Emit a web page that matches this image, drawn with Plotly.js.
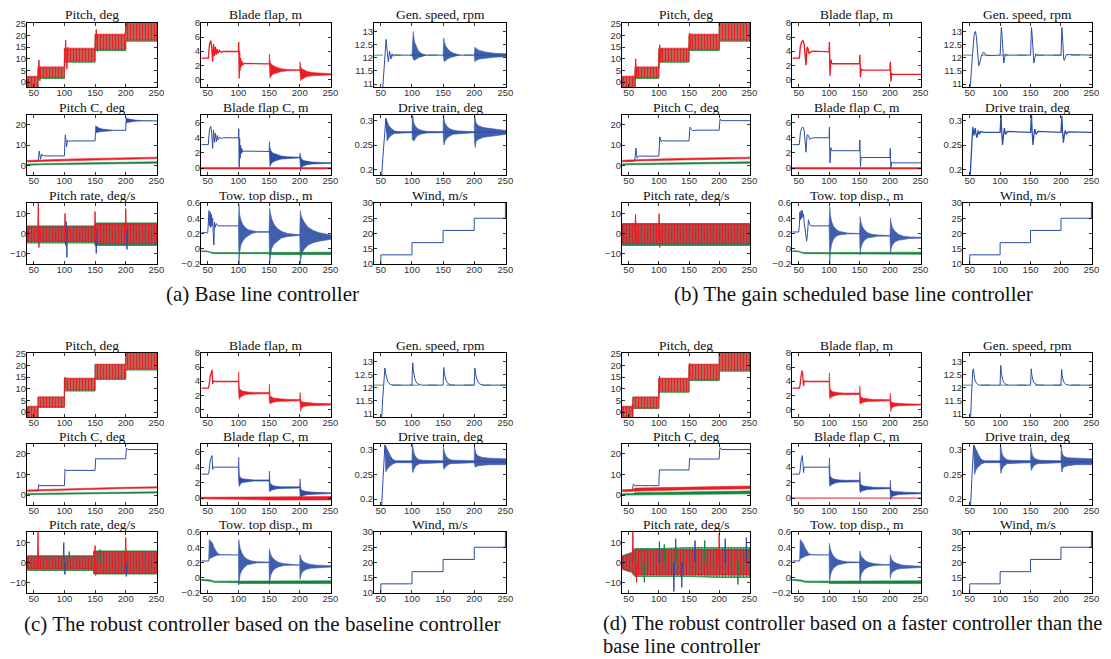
<!DOCTYPE html>
<html><head><meta charset="utf-8">
<script src="https://cdn.plot.ly/plotly-3.0.1.min.js"></script>
<style>html,body{margin:0;padding:0;background:#fff}#chart{width:1111px;height:659px}</style>
</head><body><div id="chart"></div>
<script>
// ---------------- shared data ----------------
const X_TICKS = [50,100,150,200,250];
const TITLES = ["Pitch, deg","Blade flap, m","Gen. speed, rpm","Pitch C, deg","Blade flap C, m","Drive train, deg","Pitch rate, deg/s","Tow. top disp., m","Wind, m/s"];
const CAPTIONS = ["(a) Base line controller","(b) The gain scheduled base line controller","(c) The robust controller based on the baseline controller","(d) The robust controller based on a faster controller than the","base line controller"];
const YT_PITCH=[0,5,10,15,20,25], YL_PITCH=["0","5","10","15","20","25"];
const YT_FLAP=[0,2,4,6,8], YL_FLAP=["0","2","4","6","8"];
const YT_GEN=[11,11.5,12,12.5,13], YL_GEN=["11","11.5","12","12.5","13"];
const YT_PC=[0,10,20], YL_PC=["0","10","20"];
const YT_FC=[0,2,4,6], YL_FC=["0","2","4","6"];
const YT_DR=[0.2,0.25,0.3], YL_DR=["0.2","0.25","0.3"];
const YT_RATE=[-10,0,10], YL_RATE=["\u221210","0","10"];
const YT_TW=[-0.2,0,0.2,0.4,0.6], YL_TW=["\u22120.2","0","0.2","0.4","0.6"];
const YT_WIND=[10,15,20,25,30], YL_WIND=["10","15","20","25","30"];

const WIND_t=[40,50,50,100,100,150,150,200,200,250,250];
const WIND_y=[8,8,13,13,17,17,21,21,25,25,30];
const GENREF_t=[39,251], GENREF_y=[12.1,12.1];
const ZERO_t=[39,251], ZERO_y=[0,0];

// ---------------- panel (a) ----------------
const A_pitch_t=[40,57,57,100,100,150,150,200,200,251];
const A_pitchR_lo=[-2.5,-2.5,2,2,9,9,14,14,18,18];
const A_pitchR_hi=[2.5,2.5,6.5,6.5,14.5,14.5,20.5,20.5,26,26];
const A_pitchG_lo=[-3,-3,1.5,1.5,8.5,8.5,13.5,13.5,17.5,17.5];
const A_pitchG_hi=[2,2,6,6,14,14,20,20,25.5,25.5];
const A_pitchSpk_t=[57,58.5,60,61.5,null,100.5,102,104,106,null,150,152,154,null,199,201];
const A_pitchSpk_y=[1,9.5,0.5,6.5,null,6,18,5.5,15,null,14,22.5,13,null,20.5,25];
const A_flap_t=[40,51,52,53,55,56.5,58,59.5,61,62.5,64,65.5,67,69,72,76,100,100.6,101.3,102,102.8,103.6,104.5,105.5,107,109,150];
const A_flap_y=[3,3,4.2,5.0,5.5,4.5,2.5,5.0,3.3,4.6,3.5,4.3,3.7,4.1,3.85,3.95,3.95,5.3,0.1,4.0,1.2,3.0,1.8,2.6,2.0,2.25,2.2];
const A_flapB_t=[150,150.5,151.5,153,156,162,170,180,200,null,200,200.5,201.5,203,206,212,220,235,251];
const A_flapB_hi=[2.2,3.6,2.6,2.2,2.0,1.7,1.5,1.4,1.35,null,1.35,2.5,1.8,1.5,1.4,1.1,0.95,0.85,0.8];
const A_flapB_lo=[2.2,2.0,0.2,0.4,0.7,0.9,1.1,1.2,1.25,null,1.25,1.0,-0.2,0.0,0.2,0.4,0.5,0.6,0.62];
const A_gen_t=[40,52,53.5,55.5,57,58.4,60,62,64,66,68,70,72,75,251];
const A_gen_y=[9.5,10.5,11.0,11.9,12.5,12.7,12.3,11.85,12.25,11.95,12.15,12.05,12.12,12.1,12.1];
const A_genB_t=[100,101,102,104,107,110,114,118,123,null,150,151,152,154,157,161,166,171,177,null,200,201,203,208,218,232,251];
const A_genB_hi=[12.1,12.7,13.0,12.6,12.4,12.28,12.18,12.13,12.1,null,12.1,12.75,12.6,12.45,12.35,12.25,12.18,12.13,12.1,null,12.1,12.4,12.35,12.28,12.22,12.17,12.15];
const A_genB_lo=[12.1,12.0,11.95,11.9,11.95,12.0,12.04,12.07,12.1,null,12.1,11.95,11.85,11.9,11.95,12.0,12.04,12.07,12.1,null,12.1,11.85,11.9,11.95,11.99,12.02,12.04];
const A_pc_t=[40,57,58,59,60,61,62,63,64,66,70,100,100.5,101.5,102.5,103.5,105,107,110,150];
const A_pc_y=[2,2,4,7,5,3,4.5,5.5,4.5,4.8,4.6,4.6,9,15,12,9,12.5,11.8,12,12];
const A_pcB_t=[150,151,153,157,163,170,180,200,null,200,200.5,203,208,215,225,251];
const A_pcB_hi=[12,19.5,19,18.3,17.8,17.5,17.3,17.3,null,17.3,23.5,23,22.6,22.3,22.1,22];
const A_pcB_lo=[12,16,16.2,16.5,16.8,17,17.1,17.2,null,17.2,21,21.3,21.5,21.7,21.8,21.9];
const A_pcRG_t=[40,60,100,150,200,251];
const A_pcR_hi=[2.4,2.7,3.0,3.4,3.8,4.0];
const A_pcR_lo=[1.7,2.0,2.3,2.7,3.0,3.3];
const A_pcG_hi=[0.6,0.8,1.0,1.3,1.6,1.7];
const A_pcG_lo=[0,0.2,0.4,0.6,0.9,1.0];
const A_fc_t=[40,51,52,53,55,56.5,58,59.5,61,62.5,64,65.5,67,69,72,76,100,100.6,101.3,102,102.8,103.6,104.5,105.5,107,109,150];
const A_fc_y=[3.1,3.1,4.3,5.1,5.5,4.6,2.6,5.0,3.4,4.6,3.5,4.3,3.7,4.1,3.9,4.0,4.0,5.2,0.1,4.0,1.3,3.0,1.9,2.6,2.1,2.25,2.2];
const A_fcB_t=[150,150.5,151.5,153,156,162,170,180,200,null,200,200.5,201.5,203,206,212,220,235,251];
const A_fcB_hi=[2.2,3.5,2.7,2.3,2.0,1.8,1.6,1.5,1.45,null,1.45,2.0,1.5,1.2,1.0,0.9,0.8,0.75,0.72];
const A_fcB_lo=[2.2,2.0,0.2,0.5,0.8,1.0,1.2,1.3,1.35,null,1.35,0.8,-0.4,0.1,0.3,0.45,0.55,0.6,0.62];
const A_dr_t=[40,51,53,55,57,58,60,80,251];
const A_dr_y=[0.15,0.18,0.22,0.26,0.29,0.305,0.2765,0.2765,0.2765];
const A_drB_t=[58,60,63,67,72,80,100,null,100,100.5,101.5,103,106,110,116,125,150,null,150,150.5,151.5,153,156,160,166,175,200,null,200,200.5,201.5,203,207,215,230,251];
const A_drB_hi=[0.305,0.298,0.29,0.284,0.279,0.2775,0.2775,null,0.2775,0.313,0.31,0.295,0.288,0.283,0.28,0.278,0.2775,null,0.2775,0.313,0.305,0.295,0.289,0.284,0.281,0.279,0.2775,null,0.2775,0.313,0.305,0.295,0.29,0.286,0.283,0.28];
const A_drB_lo=[0.29,0.258,0.265,0.27,0.274,0.2755,0.2755,null,0.2755,0.26,0.262,0.258,0.265,0.27,0.273,0.275,0.2755,null,0.2755,0.26,0.25,0.258,0.264,0.268,0.272,0.274,0.2755,null,0.2755,0.255,0.245,0.258,0.262,0.266,0.269,0.272];
const A_rate_t=[40,150,150,251];
const A_rateB_hi=[3.5,3.5,5,5], A_rateB_lo=[-4,-4,-5.5,-5.5];
const A_rateG_hi=[3.8,3.8,5.3,5.3], A_rateG_lo=[-4.8,-4.8,-6,-6];
const A_rateR_hi=[3.3,3.3,4.5,4.5], A_rateR_lo=[-3.8,-3.8,-5,-5];
const A_rateSpkR_t=[56.5,57.5,58.5,60,61.5,null,100,101,102,103,null,149,150,151,152,null,199,200,201];
const A_rateSpkR_y=[2,15.3,-7,3,-2,null,-3,10,-6,3,null,-3,11,-4,3,null,-4,12.5,0];
const A_rateSpkB_t=[101,102,103,104,105,null,150.5,152,153,null,201,202,203];
const A_rateSpkB_y=[3,-4,6,-12,2,null,2,-10,2,null,2,-8,2];
const A_tw_t=[40,50,51,52,53,54,55,56,57,58,59,60,61,62,64,67,70,100];
const A_tw_y=[0.21,0.21,0.35,0.5,0.3,0.48,0.28,0.45,0.3,0.4,0.2,0.05,0.35,0.28,0.33,0.3,0.3,0.3];
const A_twB_t=[100,101,102,104,107,111,116,122,130,150,null,150,151,152,154,158,163,170,180,190,200,null,200,201,202,204,208,214,222,232,242,251];
const A_twB_hi=[0.3,0.58,0.45,0.38,0.32,0.28,0.25,0.235,0.225,0.225,null,0.225,0.53,0.48,0.4,0.32,0.27,0.23,0.2,0.19,0.185,null,0.185,0.5,0.45,0.4,0.34,0.28,0.24,0.21,0.19,0.18];
const A_twB_lo=[0.3,-0.2,-0.05,0.05,0.1,0.14,0.17,0.2,0.215,0.215,null,0.215,-0.19,-0.1,0.0,0.06,0.1,0.14,0.16,0.17,0.175,null,0.175,-0.2,-0.12,-0.05,0.0,0.05,0.08,0.1,0.115,0.125];
const A_twG_t=[40,50,55,60,100,150,150,200,200,251];
const A_twG_hi=[-0.025,-0.03,-0.045,-0.05,-0.05,-0.05,-0.045,-0.045,-0.045,-0.045];
const A_twG_lo=[-0.035,-0.04,-0.055,-0.065,-0.065,-0.065,-0.075,-0.075,-0.075,-0.075];

// ---------------- panel (b) ----------------
const B_pitch_t=[40,61,61,100,100,150,150,200,200,251];
const B_pitchR_lo=[-2.5,-2.5,2,2,9,9,14,14,18,18];
const B_pitchR_hi=[2.5,2.5,6.5,6.5,14.5,14.5,20.5,20.5,26,26];
const B_pitchG_lo=[-3,-3,1.5,1.5,8.5,8.5,13.5,13.5,17.5,17.5];
const B_pitchG_hi=[2,2,6,6,14,14,20,20,25.5,25.5];
const B_pitchSpk_t=[60,61.7,63,64.5,null,100,101.5,103,104.5,null,150,151.5,153];
const B_pitchSpk_y=[1,10,2,6.5,null,6,16,8.5,14.5,null,14,21,14.5];
const B_flap_t=[40,51,52,53,55,57,59,60,61,62,63,64,65,67,70,74,100,100.5,101,101.5,102,103,104,106,150,150.5,151,151.5,152,153,154,156,200,200.5,201,201.5,202,203,205,251];
const B_flap_y=[3,3,4.0,4.8,5.3,5.5,5.0,4.0,3.0,2.0,3.5,4.6,4.4,3.7,3.9,4.0,3.9,5.3,2.5,0.5,1.5,2.8,2.3,2.2,2.2,3.5,1.0,0.3,1.0,1.5,1.3,1.3,1.3,2.5,0.5,-0.3,0.3,0.8,0.7,0.7];
const B_gen_t=[40,51,53,55,57,58.5,59.5,61,63,64.8,66.5,69,72,74,77,80,100,101,102,103,104,105,106,107.5,109,111,150,150.5,151.5,152.5,153.5,154.5,155.5,157,159,161,200,200.5,201.5,202.5,203.5,204.5,205.5,207,209,251];
const B_gen_y=[9,10.9,11.6,12.3,12.8,12.98,13.0,12.8,12.1,11.7,11.8,12.05,12.2,12.2,12.1,12.08,12.1,12.5,13.15,12.9,12.3,11.9,11.8,12.0,12.15,12.1,12.1,12.4,13.15,12.9,12.3,11.9,11.8,12.0,12.15,12.1,12.1,12.4,13.15,12.85,12.3,11.95,11.9,12.0,12.12,12.1];
const B_pc_t=[40,60,61,62,63,64,65,67,70,100,100.5,101.5,102.5,104,106,110,150,150.5,151.5,153,156,160,200,200.5,201.5,203,206,251];
const B_pc_y=[2,2,5,8.5,6,3.5,4,4.6,4.5,4.5,9,14,13,11.5,12.2,12,12,15,18.8,18,17,17.3,17.3,20,22.8,22.2,22,22];
const B_pcRG_t=[40,60,100,150,200,251];
const B_pcR_hi=[2.5,2.8,3.1,3.5,3.9,4.0], B_pcR_lo=[1.8,2.1,2.4,2.8,3.1,3.3];
const B_pcG_hi=[0.8,0.9,1.1,1.3,1.6,1.7], B_pcG_lo=[0.2,0.3,0.4,0.6,0.9,1.0];
const B_fc_t=[40,51,52,53,55,57,59,60,61,62,63,64,66,68,70,74,100,100.5,101,101.5,102,103,104,106,150,150.5,151,151.5,152,153,154,156,200,200.5,201,201.5,202,203,205,251];
const B_fc_y=[3.1,3.1,4.0,4.8,5.3,5.4,5.0,4.0,3.0,2.1,3.5,4.4,4.3,3.8,3.9,4.0,4.0,5.4,2.5,0.7,1.5,2.7,2.3,2.3,2.3,3.7,1.0,0.2,0.9,1.5,1.4,1.4,1.4,2.6,0.6,-0.1,0.4,0.8,0.7,0.7];
const B_dr_t=[40,51,53,55,57,59,60.5,62,64,66,68,72,100,100.5,101.5,102.5,104,105.5,107,109,112,150,150.5,151.5,152.5,154,155.5,157,159,162,200,200.5,201.5,202.5,204,205.5,207,209,212,251];
const B_dr_y=[0.15,0.19,0.24,0.287,0.27,0.285,0.272,0.265,0.28,0.272,0.278,0.276,0.276,0.29,0.313,0.28,0.25,0.27,0.285,0.272,0.278,0.276,0.29,0.313,0.28,0.25,0.27,0.283,0.272,0.278,0.276,0.285,0.31,0.28,0.255,0.27,0.28,0.273,0.277,0.276];
const B_rate_t=[40,251];
const B_rateB_hi=[4.8,4.8], B_rateB_lo=[-5.5,-5.5];
const B_rateG_hi=[5,5], B_rateG_lo=[-6,-6];
const B_rateR_hi=[4.5,4.5], B_rateR_lo=[-5,-5];
const B_rateSpkR_t=[60,61.5,63,null,99.5,100.5,101.5,102.5];
const B_rateSpkR_y=[0,9.5,-5,null,-3,10,-7,2];
const B_tw_t=[40,50,51,52,53,54,55,56,57,58,59,60,61,62,63,64.5,66,68,70,100];
const B_tw_y=[0.22,0.22,0.3,0.48,0.38,0.5,0.4,0.5,0.42,0.45,0.35,0.3,0.2,0.15,0.1,0.2,0.38,0.32,0.3,0.3];
const B_twB_t=[100,101,102,104,107,111,116,122,130,150,null,150,151,152,154,158,163,170,180,200,null,200,201,202,204,208,214,222,232,251];
const B_twB_hi=[0.3,0.55,0.45,0.36,0.3,0.26,0.23,0.215,0.205,0.2,null,0.2,0.42,0.36,0.3,0.25,0.21,0.19,0.18,0.175,null,0.17,0.4,0.34,0.28,0.23,0.19,0.165,0.155,0.15];
const B_twB_lo=[0.3,-0.2,-0.05,0.06,0.12,0.16,0.18,0.19,0.195,0.195,null,0.195,-0.08,0.0,0.06,0.11,0.14,0.155,0.165,0.165,null,0.165,-0.06,0.0,0.05,0.09,0.11,0.125,0.135,0.138];
const B_twG_t=[40,50,55,60,100,150,150,200,200,251];
const B_twG_hi=[-0.025,-0.03,-0.045,-0.05,-0.05,-0.05,-0.045,-0.045,-0.045,-0.045];
const B_twG_lo=[-0.035,-0.04,-0.055,-0.065,-0.065,-0.065,-0.072,-0.072,-0.072,-0.072];

// ---------------- panel (c) ----------------
const C_pitch_t=[40,57,57,100,100,150,150,200,200,251];
const C_pitchR_lo=[-2.5,-2.5,2.3,2.3,9.5,9.5,14.5,14.5,18.5,18.5];
const C_pitchR_hi=[2.5,2.5,6.5,6.5,14.5,14.5,20.5,20.5,26,26];
const C_pitchG_lo=[-3,-3,2,2,9,9,14,14,18,18];
const C_pitchG_hi=[2,2,6.3,6.3,14.2,14.2,20.2,20.2,25.5,25.5];
const C_pitchSpk_t=[100,101,102];
const C_pitchSpk_y=[9.5,15,10];
const C_flap_t=[40,51,52,53,54,55,56,57,58,59,62,100];
const C_flap_y=[3,3,3.3,4.5,4.7,5.0,5.3,5.6,3.6,4.0,3.95,3.95];
const C_flapB_t=[100,100.5,101.5,103,106,110,116,125,150,null,150,150.5,151.5,153,157,163,172,185,200,null,200,200.5,201.5,203,207,214,225,240,251];
const C_flapB_hi=[3.95,5.3,3.0,2.8,2.6,2.5,2.45,2.4,2.4,null,2.4,3.6,2.0,1.8,1.6,1.5,1.45,1.4,1.4,null,1.4,2.4,1.3,1.1,1.0,0.9,0.85,0.82,0.8];
const C_flapB_lo=[3.95,2.0,1.4,1.7,1.9,2.05,2.15,2.2,2.2,null,2.2,1.0,0.8,0.9,1.0,1.1,1.15,1.2,1.2,null,1.2,0.3,-0.3,0.2,0.4,0.5,0.55,0.58,0.6];
const C_gen_t=[40,51.5,53,54.5,55.5,56.5,57.5,59,61,63,66,70,100,100.5,101.3,102,103,104.5,106,108,111,115,150,150.5,151,152,153,154.5,156,158,161,165,200,200.5,201,202,203,204.5,206,208,211,215,251];
const C_gen_y=[9,10.9,11.6,12.2,12.6,12.75,12.55,12.4,12.25,12.17,12.12,12.1,12.1,12.6,12.95,12.7,12.5,12.35,12.25,12.18,12.13,12.1,12.1,12.5,12.77,12.55,12.4,12.3,12.22,12.16,12.12,12.1,12.1,12.5,12.75,12.55,12.4,12.3,12.22,12.16,12.12,12.1,12.1];
const C_pc_t=[40,57,58,60,100,101,103,150,151,153,200,201,204,251];
const C_pc_y=[2.1,2.1,5,4.6,4.6,12.5,12,12,17.8,17.6,17.6,22.7,22.1,22.1];
const C_pcRG_t=[40,60,100,150,200,251];
const C_pcR_hi=[2.5,2.7,3.0,3.4,3.8,4.0], C_pcR_lo=[1.9,2.1,2.4,2.8,3.2,3.4];
const C_pcG_hi=[0.8,0.9,1.0,1.2,1.5,1.6], C_pcG_lo=[0.2,0.3,0.4,0.6,0.9,1.0];
const C_fc_t=[40,51,52,53,54,55,56,57,58,59,62,100];
const C_fc_y=[3.1,3.1,3.4,4.6,4.8,5.1,5.3,5.5,3.7,4.0,4.0,4.0];
const C_fcB_t=[100,100.5,101.5,103,106,110,116,125,150,null,150,150.5,151.5,153,157,163,172,185,200,null,200,200.5,201.5,203,207,214,225,240,251];
const C_fcB_hi=[4.0,5.3,3.0,2.7,2.5,2.45,2.4,2.35,2.35,null,2.35,3.5,2.0,1.8,1.6,1.5,1.45,1.45,1.45,null,1.45,2.5,1.3,1.0,0.9,0.8,0.75,0.72,0.7];
const C_fcB_lo=[4.0,2.0,1.5,1.8,2.0,2.1,2.15,2.2,2.2,null,2.2,1.0,0.8,1.0,1.1,1.2,1.25,1.3,1.3,null,1.3,0.3,-0.2,0.2,0.35,0.45,0.52,0.55,0.58];
const C_fcR_t=[40,100,150,251];
const C_fcR_hi=[0.1,0.15,0.2,0.2], C_fcR_lo=[-0.1,-0.15,-0.25,-0.25];
const C_dr_t=[40,51.5,53.5,55.5,56.5,70,251];
const C_dr_y=[0.15,0.19,0.24,0.29,0.31,0.276,0.276];
const C_drB_t=[56.5,58,60,63,66,70,75,100,null,100,100.5,101.5,103,105,108,112,118,150,null,150,150.5,151.5,153,155,158,162,168,200,null,200,200.5,201.5,203,206,212,225,251];
const C_drB_hi=[0.31,0.305,0.297,0.29,0.284,0.28,0.278,0.278,null,0.278,0.312,0.305,0.295,0.288,0.283,0.28,0.279,0.278,null,0.278,0.305,0.3,0.292,0.287,0.283,0.28,0.279,0.278,null,0.278,0.312,0.3,0.292,0.288,0.285,0.283,0.282];
const C_drB_lo=[0.3,0.255,0.26,0.265,0.269,0.272,0.274,0.274,null,0.274,0.262,0.254,0.26,0.265,0.269,0.272,0.273,0.274,null,0.274,0.265,0.26,0.264,0.267,0.27,0.272,0.273,0.274,null,0.274,0.27,0.265,0.266,0.268,0.269,0.27,0.27];
const C_rate_t=[40,148,148,251];
const C_rateB_hi=[3,3,5.5,5.5], C_rateB_lo=[-3.3,-3.3,-5.5,-5.5];
const C_rateG_hi=[3.4,3.4,5.8,5.8], C_rateG_lo=[-4,-4,-5.8,-5.8];
const C_rateR_hi=[2.8,2.8,5.2,5.2], C_rateR_lo=[-3,-3,-5.2,-5.2];
const C_rateSpkR_t=[56,57,58,null,149,150,151,152,null,199,200,201];
const C_rateSpkR_y=[0,15.3,-3,null,0,8.5,-6.5,0,null,0,12.5,0];
const C_rateSpkB_t=[98,99,100,101,102,null,200,201,202];
const C_rateSpkB_y=[2,10,-4,-6,0,null,0,-7,0];
const C_rateSpkG_t=[107,108,109,null,157,158,159];
const C_rateSpkG_y=[2,5.5,0,null,3,6.5,0];
const C_tw_t=[40,51.5];
const C_tw_y=[0.22,0.22];
const C_twB_t=[51.5,52.5,54,56,58,60,63,66,70,100,null,100,100.5,101.5,103,106,110,115,122,130,150,null,150,150.5,151.5,153,156,160,166,175,188,200,null,200,200.5,201.5,203,206,211,218,228,240,251];
const C_twB_hi=[0.22,0.5,0.49,0.47,0.45,0.4,0.35,0.32,0.305,0.3,null,0.3,0.5,0.45,0.38,0.32,0.27,0.24,0.22,0.21,0.205,null,0.2,0.38,0.34,0.3,0.26,0.23,0.2,0.185,0.175,0.175,null,0.17,0.3,0.27,0.24,0.21,0.19,0.175,0.165,0.16,0.158];
const C_twB_lo=[0.22,0.25,0.25,0.26,0.27,0.28,0.29,0.295,0.298,0.298,null,0.298,-0.1,-0.05,0.05,0.1,0.14,0.17,0.185,0.195,0.198,null,0.195,-0.09,-0.03,0.04,0.09,0.12,0.145,0.16,0.165,0.167,null,0.165,-0.02,0.02,0.06,0.09,0.11,0.125,0.133,0.137,0.14];
const C_twG_t=[40,55,60,100,100,251];
const C_twG_hi=[-0.02,-0.03,-0.045,-0.045,-0.04,-0.04];
const C_twG_lo=[-0.035,-0.045,-0.06,-0.065,-0.075,-0.075];

// ---------------- panel (d) ----------------
const D_pitch_t=[40,57,57,100,100,150,150,200,200,251];
const D_pitchR_lo=[-2.5,-2.5,1.8,1.8,9,9,14,14,18,18];
const D_pitchR_hi=[2.5,2.5,6.5,6.5,14.5,14.5,20.5,20.5,26,26];
const D_pitchG_lo=[-3,-3,1.5,1.5,8.5,8.5,13.5,13.5,17.5,17.5];
const D_pitchG_hi=[2,2,6.2,6.2,14.2,14.2,20.2,20.2,25.5,25.5];
const D_pitchSpk_t=[55.5,56.5,57.5,null,100,101,102,null,150,151,152];
const D_pitchSpk_y=[0,3.5,2,null,10,15.5,11,null,15,21,15];
const D_flap_t=[40,51,52,53,54,55,56,57,58,59,62,100];
const D_flap_y=[3,3,3.3,4.5,4.8,5.2,5.5,4.5,3.3,4.0,3.95,3.95];
const D_flapB_t=[100,100.5,101.5,103,106,110,116,125,150,null,150,150.5,151.5,153,157,163,172,185,200,null,200,200.5,201.5,203,207,214,225,240,251];
const D_flapB_hi=[3.95,5.2,3.0,2.7,2.5,2.4,2.35,2.3,2.3,null,2.3,3.3,1.9,1.7,1.55,1.45,1.4,1.38,1.35,null,1.35,2.3,1.2,1.0,0.9,0.82,0.78,0.75,0.74];
const D_flapB_lo=[3.95,1.9,1.5,1.7,1.85,1.95,2.05,2.1,2.1,null,2.1,0.9,0.7,0.9,1.0,1.1,1.15,1.2,1.2,null,1.2,0.2,-0.3,0.2,0.4,0.5,0.55,0.6,0.6];
const D_gen_t=[40,51.5,53,54,55,56,57,58.5,60.5,63,66,70,100,100.5,101.2,102,103,104.5,106,108,111,115,150,150.5,151.2,152,153,154.5,156,158,161,165,200,200.5,201.2,202,203,204.5,206,208,211,215,251];
const D_gen_y=[9,10.9,11.7,12.3,12.65,12.72,12.5,12.3,12.2,12.13,12.1,12.1,12.1,12.5,12.85,12.55,12.4,12.28,12.2,12.15,12.12,12.1,12.1,12.45,12.72,12.5,12.35,12.25,12.18,12.14,12.11,12.1,12.1,12.4,12.7,12.45,12.32,12.23,12.17,12.13,12.11,12.1,12.1];
const D_pc_t=[40,56,57,58,60,100,100.5,101.5,103,150,150.5,151.5,153,200,200.5,201.5,204,251];
const D_pc_y=[2.1,2.1,4,5.4,4.6,4.6,10,12.4,12.2,12.2,16,18,17.5,17.5,21,23,22.1,22.1];
const D_pcRG_t=[40,58,60,100,150,200,251];
const D_pcR_hi=[2.6,2.8,3.4,3.6,3.9,4.3,4.4], D_pcR_lo=[1.8,2.0,1.9,2.2,2.6,3.0,3.1];
const D_pcG_hi=[0.7,0.8,1.2,1.4,1.6,1.9,2.0], D_pcG_lo=[0,0.1,-0.1,0.1,0.3,0.5,0.6];
const D_fc_t=[40,51,52,53,54,55,56,57,58,59,62,100];
const D_fc_y=[3.1,3.1,3.4,4.5,4.9,5.2,5.5,4.5,3.3,4.0,4.0,4.0];
const D_fcB_t=[100,100.5,101.5,103,106,110,116,125,150,null,150,150.5,151.5,153,157,163,172,185,200,null,200,200.5,201.5,203,207,214,225,240,251];
const D_fcB_hi=[4.0,5.2,3.0,2.7,2.5,2.4,2.35,2.3,2.3,null,2.3,3.4,1.9,1.7,1.55,1.45,1.4,1.38,1.35,null,1.35,2.3,1.1,0.95,0.85,0.8,0.75,0.72,0.7];
const D_fcB_lo=[4.0,1.9,1.5,1.7,1.85,1.95,2.05,2.1,2.1,null,2.1,0.9,0.7,0.9,1.0,1.1,1.15,1.2,1.2,null,1.2,0.3,-0.2,0.2,0.35,0.45,0.5,0.55,0.55];
const D_dr_t=[40,51.5,53.5,55.5,56.5,70,251];
const D_dr_y=[0.15,0.19,0.24,0.29,0.31,0.276,0.276];
const D_drB_t=[56.5,58,60,63,66,70,75,100,null,100,100.5,101.5,103,105,108,112,118,150,null,150,150.5,151.5,153,155,158,162,168,200,null,200,200.5,201.5,203,206,212,225,251];
const D_drB_hi=[0.31,0.305,0.297,0.29,0.284,0.28,0.278,0.278,null,0.278,0.312,0.305,0.293,0.287,0.283,0.28,0.279,0.278,null,0.278,0.305,0.298,0.29,0.285,0.282,0.28,0.279,0.278,null,0.278,0.31,0.298,0.29,0.286,0.284,0.283,0.282];
const D_drB_lo=[0.3,0.25,0.258,0.264,0.268,0.272,0.274,0.274,null,0.274,0.262,0.252,0.26,0.265,0.269,0.272,0.273,0.274,null,0.274,0.266,0.258,0.263,0.267,0.27,0.272,0.273,0.274,null,0.274,0.265,0.255,0.262,0.266,0.268,0.27,0.27];
const D_rate_t=[40,55,60,100,150,200,251];
const D_rateG_hi=[3.5,5,7,7,7.5,7.5,7.5], D_rateG_lo=[-3.5,-5,-7,-7,-7,-7.5,-7.5];
const D_rateB_hi=[3,4,6,6,6,6,6], D_rateB_lo=[-3,-4,-6,-6,-6,-6,-6];
const D_rateR_hi=[3.2,4.5,6.5,6.5,6.5,6.5,6.5], D_rateR_lo=[-3.2,-4.5,-6,-6,-6,-6,-6];
const D_rateSpkB_t=[100,101,102,null,124,125,126,null,137,138,139,null,159,160,161,null,209,210,211,null,244,245,246];
const D_rateSpkB_y=[0,10.5,0,null,0,-14.5,0,null,0,-12.5,0,null,0,11,0,null,0,12,0,null,0,12.5,0];
const D_rateSpkG_t=[75,76,77,null,108,109,110,null,127,128,129,null,175,176,177,null,230,231,232];
const D_rateSpkG_y=[0,-10,0,null,0,9,0,null,0,12,0,null,0,11,0,null,0,-11,0];
const D_rateSpkR_t=[56,57,58,null,62,63,64,null,199,200,201];
const D_rateSpkR_y=[0,15.3,0,null,0,-10,0,null,0,14.5,0];
const D_tw_t=[40,51.5];
const D_tw_y=[0.22,0.22];
const D_twB_t=[51.5,52.5,54,56,58,60,63,66,70,100,null,100,100.5,101.5,103,106,110,115,122,130,150,null,150,150.5,151.5,153,156,160,166,175,188,200,null,200,200.5,201.5,203,206,211,218,228,240,251];
const D_twB_hi=[0.22,0.5,0.49,0.47,0.44,0.4,0.35,0.32,0.305,0.3,null,0.3,0.45,0.4,0.35,0.3,0.26,0.235,0.22,0.21,0.205,null,0.2,0.35,0.32,0.28,0.25,0.22,0.2,0.185,0.175,0.175,null,0.17,0.3,0.27,0.24,0.21,0.19,0.17,0.16,0.155,0.15];
const D_twB_lo=[0.22,0.25,0.25,0.26,0.27,0.28,0.29,0.295,0.298,0.298,null,0.298,-0.06,-0.01,0.06,0.11,0.145,0.17,0.185,0.195,0.198,null,0.195,-0.08,-0.02,0.05,0.09,0.12,0.145,0.16,0.165,0.167,null,0.165,-0.01,0.03,0.07,0.09,0.11,0.12,0.128,0.132,0.135];
const D_twG_t=[40,55,60,100,100,251];
const D_twG_hi=[-0.02,-0.03,-0.045,-0.045,-0.04,-0.04];
const D_twG_lo=[-0.035,-0.045,-0.06,-0.065,-0.075,-0.075];

// ---------------- drawing ----------------
const W=1111, H=659;
const BLUE='#2c4da6', RED='#ec1c24', GREEN='#16853a';
const traces=[];
function sfx(n){return n===1?'':String(n);}
function id(p,k){return p*9+k+1;}
function L(n,t,y,color,w,dash){
  traces.push({type:'scatter',mode:'lines',x:t,y:y,xaxis:'x'+sfx(n),yaxis:'y'+sfx(n),
    line:{color:color,width:w||1,dash:dash||'solid'},connectgaps:false,hoverinfo:'skip',showlegend:false});
}
function poly(t,lo,hi){
  const X=[],Y=[];let i=0;
  while(i<t.length){
    let j=i;while(j<t.length&&t[j]!==null)j++;
    const st=t.slice(i,j),sl=lo.slice(i,j),sh=hi.slice(i,j);
    if(st.length){
      X.push(...st,...st.slice().reverse(),st[0],null);
      Y.push(...sh,...sl.slice().reverse(),sh[0],null);
    }
    i=j+1;
  }
  return [X,Y];
}
function Bd(n,t,lo,hi,color,op){
  const [X,Y]=poly(t,lo,hi);
  traces.push({type:'scatter',mode:'lines',x:X,y:Y,xaxis:'x'+sfx(n),yaxis:'y'+sfx(n),
    fill:'toself',fillcolor:color,opacity:op||1,line:{color:color,width:0.6},connectgaps:false,hoverinfo:'skip',showlegend:false});
}
// dense zig-zag oscillation: band filled with a fine vertical hatch so the thin white gaps show
function Bp(n,t,lo,hi,color,sol,sz){
  const [X,Y]=poly(t,lo,hi);
  traces.push({type:'scatter',mode:'lines',x:X,y:Y,xaxis:'x'+sfx(n),yaxis:'y'+sfx(n),
    fill:'toself',fillcolor:'rgba(0,0,0,0)',
    fillpattern:{shape:'|',fgcolor:color,bgcolor:'rgba(255,255,255,0)',size:sz||3,solidity:sol,fillmode:'replace'},
    line:{color:color,width:0.8},connectgaps:false,hoverinfo:'skip',showlegend:false});
}

function pitchBands(p,t,glo,ghi,rlo,rhi){
  Bp(id(p,0),t,glo,ghi,GREEN,0.7,3);
  Bp(id(p,0),t,rlo,rhi,RED,0.7,3);
}
function rateBands(p,t,blo,bhi,glo,ghi,rlo,rhi){
  Bp(id(p,6),t,blo,bhi,BLUE,0.7,3);
  Bp(id(p,6),t,glo,ghi,GREEN,0.7,3);
  Bp(id(p,6),t,rlo,rhi,RED,0.7,3);
}

// panel a
let p=0;
pitchBands(p,A_pitch_t,A_pitchG_lo,A_pitchG_hi,A_pitchR_lo,A_pitchR_hi);
L(id(p,0),A_pitchSpk_t,A_pitchSpk_y,RED,1);
L(id(p,1),A_flap_t,A_flap_y,RED,1.3);
Bd(id(p,1),A_flapB_t,A_flapB_lo,A_flapB_hi,RED);
L(id(p,2),A_gen_t,A_gen_y,BLUE,1);
Bd(id(p,2),A_genB_t,A_genB_lo,A_genB_hi,BLUE,0.9);
L(id(p,2),GENREF_t,GENREF_y,GREEN,0.8,'dash');
L(id(p,3),A_pc_t,A_pc_y,BLUE,1);
Bd(id(p,3),A_pcB_t,A_pcB_lo,A_pcB_hi,BLUE);
Bd(id(p,3),A_pcRG_t,A_pcG_lo,A_pcG_hi,GREEN);
Bd(id(p,3),A_pcRG_t,A_pcR_lo,A_pcR_hi,RED);
L(id(p,4),A_fc_t,A_fc_y,BLUE,1);
Bd(id(p,4),A_fcB_t,A_fcB_lo,A_fcB_hi,BLUE);
L(id(p,4),ZERO_t,ZERO_y,RED,2);
L(id(p,5),A_dr_t,A_dr_y,BLUE,1);
Bd(id(p,5),A_drB_t,A_drB_lo,A_drB_hi,BLUE,0.9);
rateBands(p,A_rate_t,A_rateB_lo,A_rateB_hi,A_rateG_lo,A_rateG_hi,A_rateR_lo,A_rateR_hi);
L(id(p,6),A_rateSpkB_t,A_rateSpkB_y,BLUE,1);
L(id(p,6),A_rateSpkR_t,A_rateSpkR_y,RED,1);
L(id(p,7),A_tw_t,A_tw_y,BLUE,1);
Bd(id(p,7),A_twB_t,A_twB_lo,A_twB_hi,BLUE,0.9);
Bd(id(p,7),A_twG_t,A_twG_lo,A_twG_hi,GREEN);
L(id(p,8),WIND_t,WIND_y,BLUE,1);

// panel b
p=1;
pitchBands(p,B_pitch_t,B_pitchG_lo,B_pitchG_hi,B_pitchR_lo,B_pitchR_hi);
L(id(p,0),B_pitchSpk_t,B_pitchSpk_y,RED,1);
L(id(p,1),B_flap_t,B_flap_y,RED,1.4);
L(id(p,2),B_gen_t,B_gen_y,BLUE,1);
L(id(p,2),GENREF_t,GENREF_y,GREEN,0.8,'dash');
L(id(p,3),B_pc_t,B_pc_y,BLUE,1);
Bd(id(p,3),B_pcRG_t,B_pcG_lo,B_pcG_hi,GREEN);
Bd(id(p,3),B_pcRG_t,B_pcR_lo,B_pcR_hi,RED);
L(id(p,4),B_fc_t,B_fc_y,BLUE,1);
L(id(p,4),ZERO_t,ZERO_y,RED,2);
L(id(p,5),B_dr_t,B_dr_y,BLUE,1.3);
rateBands(p,B_rate_t,B_rateB_lo,B_rateB_hi,B_rateG_lo,B_rateG_hi,B_rateR_lo,B_rateR_hi);
L(id(p,6),B_rateSpkR_t,B_rateSpkR_y,RED,1);
L(id(p,7),B_tw_t,B_tw_y,BLUE,1);
Bd(id(p,7),B_twB_t,B_twB_lo,B_twB_hi,BLUE,0.9);
Bd(id(p,7),B_twG_t,B_twG_lo,B_twG_hi,GREEN);
L(id(p,8),WIND_t,WIND_y,BLUE,1);

// panel c
p=2;
pitchBands(p,C_pitch_t,C_pitchG_lo,C_pitchG_hi,C_pitchR_lo,C_pitchR_hi);
L(id(p,0),C_pitchSpk_t,C_pitchSpk_y,RED,1);
L(id(p,1),C_flap_t,C_flap_y,RED,1.3);
Bd(id(p,1),C_flapB_t,C_flapB_lo,C_flapB_hi,RED);
L(id(p,2),C_gen_t,C_gen_y,BLUE,1);
L(id(p,2),GENREF_t,GENREF_y,GREEN,0.8,'dash');
L(id(p,3),C_pc_t,C_pc_y,BLUE,1);
Bd(id(p,3),C_pcRG_t,C_pcG_lo,C_pcG_hi,GREEN);
Bd(id(p,3),C_pcRG_t,C_pcR_lo,C_pcR_hi,RED);
L(id(p,4),C_fc_t,C_fc_y,BLUE,1);
Bd(id(p,4),C_fcB_t,C_fcB_lo,C_fcB_hi,BLUE);
Bd(id(p,4),C_fcR_t,C_fcR_lo,C_fcR_hi,RED);
L(id(p,5),C_dr_t,C_dr_y,BLUE,1);
Bd(id(p,5),C_drB_t,C_drB_lo,C_drB_hi,BLUE,0.9);
rateBands(p,C_rate_t,C_rateB_lo,C_rateB_hi,C_rateG_lo,C_rateG_hi,C_rateR_lo,C_rateR_hi);
L(id(p,6),C_rateSpkB_t,C_rateSpkB_y,BLUE,1);
L(id(p,6),C_rateSpkG_t,C_rateSpkG_y,GREEN,1);
L(id(p,6),C_rateSpkR_t,C_rateSpkR_y,RED,1);
L(id(p,7),C_tw_t,C_tw_y,BLUE,1);
Bd(id(p,7),C_twB_t,C_twB_lo,C_twB_hi,BLUE,0.9);
Bd(id(p,7),C_twG_t,C_twG_lo,C_twG_hi,GREEN);
L(id(p,8),WIND_t,WIND_y,BLUE,1);

// panel d
p=3;
pitchBands(p,D_pitch_t,D_pitchG_lo,D_pitchG_hi,D_pitchR_lo,D_pitchR_hi);
L(id(p,0),D_pitchSpk_t,D_pitchSpk_y,RED,1);
L(id(p,1),D_flap_t,D_flap_y,RED,1.3);
Bd(id(p,1),D_flapB_t,D_flapB_lo,D_flapB_hi,RED);
L(id(p,2),D_gen_t,D_gen_y,BLUE,1);
L(id(p,2),GENREF_t,GENREF_y,GREEN,0.8,'dash');
L(id(p,3),D_pc_t,D_pc_y,BLUE,1);
Bd(id(p,3),D_pcRG_t,D_pcG_lo,D_pcG_hi,GREEN);
Bd(id(p,3),D_pcRG_t,D_pcR_lo,D_pcR_hi,RED);
L(id(p,4),D_fc_t,D_fc_y,BLUE,1);
Bd(id(p,4),D_fcB_t,D_fcB_lo,D_fcB_hi,BLUE);
L(id(p,4),ZERO_t,ZERO_y,RED,1);
L(id(p,5),D_dr_t,D_dr_y,BLUE,1);
Bd(id(p,5),D_drB_t,D_drB_lo,D_drB_hi,BLUE,0.9);
rateBands(p,D_rate_t,D_rateB_lo,D_rateB_hi,D_rateG_lo,D_rateG_hi,D_rateR_lo,D_rateR_hi);
L(id(p,6),D_rateSpkB_t,D_rateSpkB_y,BLUE,1);
L(id(p,6),D_rateSpkG_t,D_rateSpkG_y,GREEN,1);
L(id(p,6),D_rateSpkR_t,D_rateSpkR_y,RED,1);
L(id(p,7),D_tw_t,D_tw_y,BLUE,1);
Bd(id(p,7),D_twB_t,D_twB_lo,D_twB_hi,BLUE,0.9);
Bd(id(p,7),D_twG_t,D_twG_lo,D_twG_hi,GREEN);
L(id(p,8),WIND_t,WIND_y,BLUE,1);

// ---------------- layout ----------------
const YR=[[-2.1,25.3],[-1.1,8],[10.89,13.32],[-4.8,24.8],[-0.9,7],[0.188,0.312],[-15.3,15.3],[-0.2,0.6],[10,30]];
const YTV=[YT_PITCH,YT_FLAP,YT_GEN,YT_PC,YT_FC,YT_DR,YT_RATE,YT_TW,YT_WIND];
const YTT=[YL_PITCH,YL_FLAP,YL_GEN,YL_PC,YL_FC,YL_DR,YL_RATE,YL_TW,YL_WIND];
const COLS_L=[[27,157],[201,331],[374,506]], COLS_R=[[622,750],[792,921],[963,1092]];
const ROWS_T=[[23,87],[115,175],[203,264]], ROWS_B=[[353,417],[444,505],[532,593]];
const tickFont={family:'Liberation Sans, Arial, sans-serif',size:9.5,color:'#333'};
const common={showline:true,linecolor:'#000',linewidth:1,mirror:'ticks',ticks:'inside',ticklen:3,tickwidth:0.8,tickcolor:'#000',
  showgrid:false,zeroline:false,tickfont:tickFont,fixedrange:true,tickmode:'array'};
const layout={width:W,height:H,margin:{l:0,r:0,t:0,b:0},paper_bgcolor:'#fff',plot_bgcolor:'#fff',showlegend:false,annotations:[]};
for(let pp=0;pp<4;pp++){
  const cols=(pp%2===0)?COLS_L:COLS_R, rows=(pp<2)?ROWS_T:ROWS_B;
  for(let k=0;k<9;k++){
    const n=id(pp,k), r=Math.floor(k/3), c=k%3;
    const [x0,x1]=cols[c], [y0,y1]=rows[r];
    layout['xaxis'+sfx(n)]=Object.assign({},common,{domain:[x0/W,x1/W],anchor:'y'+sfx(n),range:[39,251],
      tickvals:X_TICKS,ticktext:X_TICKS.map(String),ticklabelstandoff:-3});
    layout['yaxis'+sfx(n)]=Object.assign({},common,{domain:[1-y1/H,1-y0/H],anchor:'x'+sfx(n),range:YR[k],
      tickvals:YTV[k],ticktext:YTT[k],ticklabelstandoff:-2});
    layout.annotations.push({xref:'paper',yref:'paper',x:(x0+x1)/2/W,y:1-(y0-8)/H,xanchor:'center',yanchor:'middle',
      showarrow:false,text:TITLES[k],font:{family:'Liberation Serif, Times New Roman, serif',size:13.5,color:'#111'}});
  }
}
const capFont={family:'Liberation Serif, Times New Roman, serif',size:21,color:'#111'};
const capFontD={family:'Liberation Serif, Times New Roman, serif',size:20.5,color:'#111'};
layout.annotations.push({xref:'paper',yref:'paper',x:262/W,y:1-294/H,xanchor:'center',yanchor:'middle',showarrow:false,text:CAPTIONS[0],font:capFont});
layout.annotations.push({xref:'paper',yref:'paper',x:853/W,y:1-294/H,xanchor:'center',yanchor:'middle',showarrow:false,text:CAPTIONS[1],font:capFont});
layout.annotations.push({xref:'paper',yref:'paper',x:262/W,y:1-624/H,xanchor:'center',yanchor:'middle',showarrow:false,text:CAPTIONS[2],font:capFont});
layout.annotations.push({xref:'paper',yref:'paper',x:601/W,y:1-623/H,xanchor:'left',yanchor:'middle',showarrow:false,text:CAPTIONS[3],font:capFontD});
layout.annotations.push({xref:'paper',yref:'paper',x:601/W,y:1-646/H,xanchor:'left',yanchor:'middle',showarrow:false,text:CAPTIONS[4],font:capFontD});

Plotly.newPlot('chart',traces,layout,{staticPlot:true,displayModeBar:false});
</script></body></html>
